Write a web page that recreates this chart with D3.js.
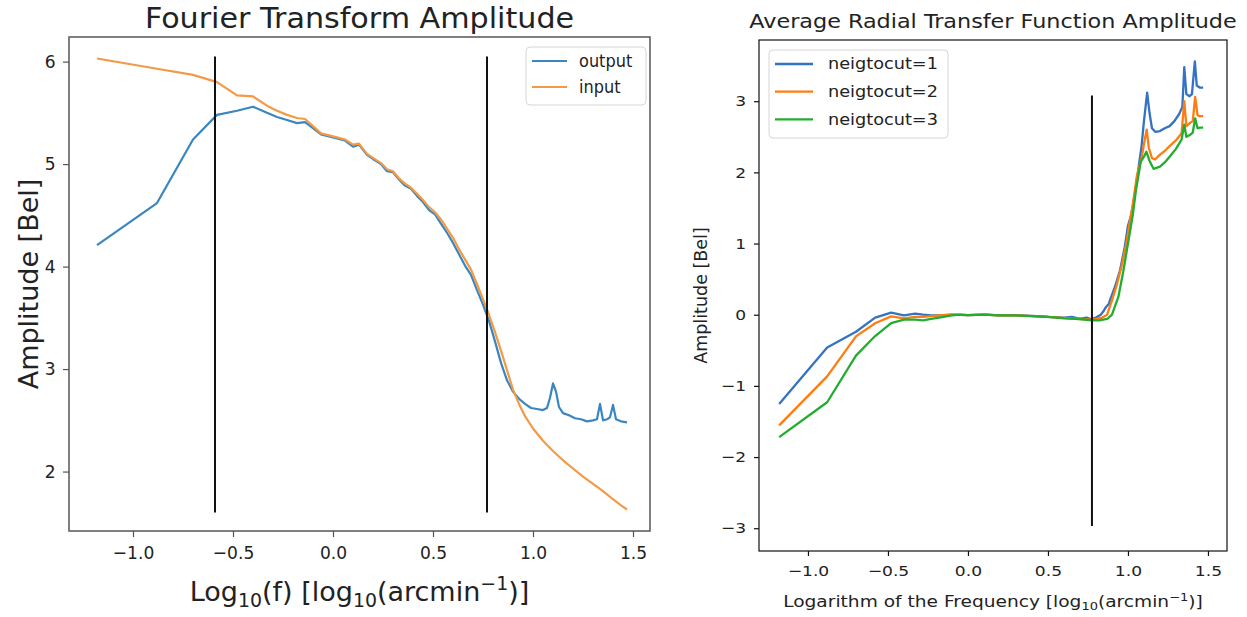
<!DOCTYPE html>
<html lang="en">
<head>
<meta charset="UTF-8">
<title>Fourier transform amplitude / radial transfer function</title>
<style>
  body { margin: 0; background: #fff; }
  svg { display: block; font-family: "DejaVu Sans", sans-serif; }
</style>
</head>
<body>
<svg id="chart" width="1247" height="617"></svg>
<script src="https://d3js.org/d3.v7.min.js"></script>
<script>
// ---- left panel: Fourier transform amplitude, [log10 f, Bel] ----
const ftInput = [[-1.18,6.03],[-0.88,5.93],[-0.70,5.87],[-0.58,5.80],[-0.48,5.67],[-0.40,5.66],[-0.33,5.57],
  [-0.28,5.52],[-0.23,5.48],[-0.18,5.45],[-0.14,5.44],[-0.10,5.37],[-0.06,5.30],[-0.02,5.28],[0.02,5.26],
  [0.06,5.24],[0.10,5.19],[0.13,5.20],[0.17,5.10],[0.20,5.06],[0.24,5.01],[0.27,4.95],[0.30,4.93],[0.33,4.86],
  [0.36,4.81],[0.39,4.77],[0.42,4.71],[0.45,4.65],[0.48,4.58],[0.51,4.53],[0.54,4.46],[0.57,4.37],[0.60,4.28],
  [0.63,4.17],[0.66,4.07],[0.69,3.97],[0.72,3.83],[0.75,3.68],[0.78,3.53],[0.81,3.36],[0.84,3.18],[0.87,2.99],
  [0.90,2.80],[0.93,2.66],[0.96,2.54],[1.00,2.42],[1.05,2.30],[1.10,2.20],[1.15,2.11],[1.20,2.03],[1.25,1.95],
  [1.30,1.88],[1.35,1.81],[1.40,1.73],[1.44,1.67],[1.47,1.63]];
const ftOutput = [[-1.18,4.21],[-0.88,4.62],[-0.70,5.24],[-0.58,5.48],[-0.48,5.52],[-0.40,5.56],[-0.33,5.50],
  [-0.28,5.46],[-0.23,5.43],[-0.18,5.40],[-0.14,5.41],[-0.10,5.35],[-0.06,5.29],[-0.02,5.27],[0.02,5.25],
  [0.06,5.23],[0.10,5.17],[0.13,5.19],[0.17,5.09],[0.20,5.05],[0.24,5.00],[0.27,4.93],[0.30,4.92],[0.33,4.85],
  [0.36,4.79],[0.39,4.76],[0.42,4.69],[0.45,4.63],[0.48,4.55],[0.51,4.51],[0.54,4.42],[0.57,4.33],[0.60,4.23],
  [0.63,4.12],[0.66,4.01],[0.69,3.92],[0.72,3.77],[0.75,3.63],[0.78,3.47],[0.81,3.27],[0.84,3.06],[0.87,2.89],
  [0.90,2.78],[0.93,2.71],[0.96,2.66],[0.99,2.62],[1.02,2.61],[1.05,2.60],[1.07,2.62],[1.085,2.72],[1.10,2.86],
  [1.115,2.78],[1.13,2.63],[1.15,2.57],[1.18,2.55],[1.21,2.52],[1.24,2.51],[1.27,2.49],[1.30,2.50],[1.32,2.51],
  [1.335,2.66],[1.35,2.50],[1.37,2.51],[1.385,2.53],[1.40,2.65],[1.415,2.51],[1.44,2.49],[1.47,2.48]];
const ftXTicks = [-1.0, -0.5, 0.0, 0.5, 1.0, 1.5];
const ftYTicks = [2, 3, 4, 5, 6];
const ftCuts = [-0.59, 0.77];

// ---- right panel: average radial transfer function amplitude ----
const trCut1 = [[-1.18,-1.255],[-0.88,-0.46],[-0.70,-0.24],[-0.58,-0.04],[-0.48,0.03],[-0.40,-0.01],[-0.33,0.015],
  [-0.28,0.0],[-0.23,-0.01],[-0.18,-0.01],[-0.10,0.0],[0.0,-0.005],[0.1,0.0],[0.2,-0.01],[0.3,-0.01],[0.4,-0.015],
  [0.5,-0.03],[0.6,-0.04],[0.65,-0.03],[0.7,-0.06],[0.74,-0.04],[0.77,-0.06],[0.80,-0.04],[0.83,0.0],[0.85,0.06],
  [0.86,0.10],[0.88,0.15],[0.89,0.22],[0.92,0.40],[0.95,0.62],[0.98,0.95],[1.00,1.25],[1.02,1.40],[1.045,1.72],
  [1.07,2.13],[1.085,2.37],[1.10,2.72],[1.12,3.12],[1.135,2.83],[1.15,2.62],[1.17,2.57],[1.20,2.58],[1.23,2.62],
  [1.26,2.65],[1.29,2.72],[1.32,2.82],[1.34,2.92],[1.352,3.48],[1.365,3.10],[1.385,3.07],[1.40,3.10],[1.418,3.56],
  [1.43,3.22],[1.45,3.19],[1.47,3.19]];
const trCut2 = [[-1.18,-1.555],[-0.88,-0.866],[-0.70,-0.305],[-0.58,-0.12],[-0.48,-0.024],[-0.40,-0.05],
  [-0.33,-0.03],[-0.28,-0.03],[-0.23,-0.02],[-0.18,-0.01],[-0.10,0.0],[0.0,-0.005],[0.1,0.0],[0.2,-0.01],
  [0.3,-0.01],[0.4,-0.02],[0.5,-0.03],[0.6,-0.045],[0.7,-0.06],[0.77,-0.07],[0.80,-0.06],[0.84,-0.04],[0.87,0.0],
  [0.90,0.20],[0.93,0.42],[0.96,0.68],[0.99,1.0],[1.00,1.15],[1.03,1.55],[1.055,1.94],[1.085,2.20],[1.105,2.46],
  [1.117,2.60],[1.13,2.35],[1.15,2.20],[1.17,2.18],[1.20,2.25],[1.23,2.30],[1.26,2.37],[1.30,2.45],[1.335,2.55],
  [1.352,3.00],[1.365,2.65],[1.39,2.70],[1.405,2.72],[1.42,3.06],[1.435,2.80],[1.45,2.79],[1.47,2.79]];
const trCut3 = [[-1.18,-1.72],[-0.88,-1.23],[-0.70,-0.575],[-0.58,-0.30],[-0.48,-0.117],[-0.40,-0.07],
  [-0.33,-0.07],[-0.28,-0.08],[-0.23,-0.06],[-0.18,-0.04],[-0.10,-0.01],[-0.05,0.0],[0.0,-0.005],[0.1,0.0],
  [0.2,-0.01],[0.3,-0.01],[0.4,-0.02],[0.5,-0.03],[0.6,-0.05],[0.7,-0.06],[0.77,-0.08],[0.82,-0.08],[0.87,-0.06],
  [0.90,0.0],[0.94,0.25],[0.97,0.60],[1.00,1.0],[1.03,1.40],[1.05,1.75],[1.08,2.15],[1.10,2.22],[1.115,2.29],
  [1.135,2.16],[1.16,2.05],[1.20,2.08],[1.23,2.14],[1.26,2.22],[1.30,2.33],[1.335,2.46],[1.352,2.67],[1.365,2.50],
  [1.39,2.53],[1.405,2.56],[1.42,2.76],[1.435,2.62],[1.45,2.63],[1.47,2.63]];
const trXTicks = [-1.0, -0.5, 0.0, 0.5, 1.0, 1.5];
const trYTicks = [-3, -2, -1, 0, 1, 2, 3];
const trCuts = [0.775];

const svg = d3.select("#chart");

// label with sub/superscripts: parts = [[text, "n"|"sub"|"sup"], ...]
function richText(sel, parts, fs) {
  let shift = 0;
  parts.forEach(([t, kind]) => {
    const target = kind === "sub" ? fs * 0.22 : kind === "sup" ? -fs * 0.4 : 0;
    sel.append("tspan")
      .attr("dy", target - shift)
      .attr("font-size", kind === "n" ? fs : fs * 0.7)
      .text(t);
    shift = target;
  });
}

function panel(c) {
  const x = d3.scaleLinear().domain(c.xDomain).range([c.left, c.right]);
  const y = d3.scaleLinear().domain(c.yDomain).range([c.bottom, c.top]);
  const g = svg.append("g");
  const sx = c.stretch;

  const line = d3.line().x(d => x(d[0])).y(d => y(d[1]));
  c.series.forEach(s => {
    g.append("path").datum(s.data)
      .attr("fill", "none").attr("stroke", s.color)
      .attr("stroke-width", c.lineWidth).attr("stroke-linejoin", "round")
      .attr("d", line);
  });

  // vertical cut lines
  c.cuts.forEach(v => {
    g.append("line")
      .attr("x1", x(v)).attr("x2", x(v))
      .attr("y1", y(c.cutRange[0])).attr("y2", y(c.cutRange[1]))
      .attr("stroke", "#111").attr("stroke-width", 2);
  });

  const xAxis = d3.axisBottom(x).tickValues(c.xTicks).tickFormat(d3.format(".1f"))
    .tickSizeOuter(0).tickSizeInner(c.tickLen).tickPadding(c.xTickPad);
  const yAxis = d3.axisLeft(y).tickValues(c.yTicks).tickFormat(d3.format("d"))
    .tickSizeOuter(0).tickSizeInner(c.tickLen).tickPadding(c.yTickPad);

  [g.append("g").attr("transform", `translate(0,${c.bottom})`).call(xAxis),
   g.append("g").attr("transform", `translate(${c.left},0)`).call(yAxis)].forEach(a => {
    a.select(".domain").remove();
    a.selectAll("line").attr("stroke", c.frameColor).attr("stroke-width", 1.2);
    a.selectAll("text").attr("font-size", c.tickFs).attr("fill", "#222")
      .attr("font-family", "DejaVu Sans").attr("transform", `scale(${sx},1)`);
  });

  g.append("rect")
    .attr("x", c.left).attr("y", c.top)
    .attr("width", c.right - c.left).attr("height", c.bottom - c.top)
    .attr("fill", "none").attr("stroke", c.frameColor).attr("stroke-width", c.frameWidth);

  // title
  g.append("text")
    .attr("transform", `translate(${(c.left + c.right) / 2},${c.titleY}) scale(${c.titleStretch},1)`)
    .attr("text-anchor", "middle").attr("font-size", c.titleFs).attr("fill", "#222")
    .text(c.title);

  // axis labels
  richText(g.append("text")
    .attr("transform", `translate(${(c.left + c.right) / 2},${c.xLabelY}) scale(${c.labelStretch},1)`)
    .attr("text-anchor", "middle").attr("fill", "#222"), c.xLabel, c.labelFs);
  g.append("text")
    .attr("transform", `translate(${c.yLabelX},${(c.top + c.bottom) / 2}) rotate(-90)`)
    .attr("text-anchor", "middle").attr("font-size", c.yLabelFs).attr("fill", "#222")
    .text(c.yLabel);

  // legend
  const L = c.legend;
  g.append("rect").attr("x", L.x).attr("y", L.y).attr("width", L.w).attr("height", L.h)
    .attr("rx", 4).attr("fill", "#fff").attr("fill-opacity", 0.8)
    .attr("stroke", "#d6d6d6").attr("stroke-width", 1);
  c.series.forEach((s, i) => {
    const ly = L.y + L.first + i * L.step;
    g.append("line").attr("x1", L.x + L.lx0).attr("x2", L.x + L.lx1)
      .attr("y1", ly).attr("y2", ly)
      .attr("stroke", s.color).attr("stroke-width", c.lineWidth);
    g.append("text")
      .attr("transform", `translate(${L.x + L.tx},${ly}) scale(${sx},1)`)
      .attr("dy", "0.35em").attr("font-size", L.fs).attr("fill", "#222")
      .text(s.name);
  });
}

panel({
  left: 69, right: 650, top: 37, bottom: 531,
  xDomain: [-1.32, 1.585], yDomain: [1.42, 6.24],
  xTicks: ftXTicks, yTicks: ftYTicks,
  stretch: 0.95, lineWidth: 2.2, tickLen: 6, xTickPad: 9, yTickPad: 8, tickFs: 18,
  frameColor: "#555", frameWidth: 1.5,
  title: "Fourier Transform Amplitude", titleY: 28, titleFs: 29, titleStretch: 1.04,
  xLabel: [["Log", "n"], ["10", "sub"], ["(f) [log", "n"], ["10", "sub"], ["(arcmin", "n"], ["\u22121", "sup"], [")]", "n"]],
  xLabelY: 601, labelFs: 27, labelStretch: 1.0,
  yLabel: "Amplitude [Bel]", yLabelX: 38, yLabelFs: 27,
  cuts: ftCuts, cutRange: [1.6, 6.05],
  series: [
    { name: "output", color: "#3a86c0", data: ftOutput },
    { name: "input", color: "#f29a45", data: ftInput }
  ],
  legend: { x: 526, y: 47, w: 120, h: 58, first: 14, step: 26, lx0: 6, lx1: 41, tx: 53, fs: 17 }
});

panel({
  left: 759, right: 1227, top: 40, bottom: 551,
  xDomain: [-1.306, 1.619], yDomain: [-3.32, 3.86],
  xTicks: trXTicks, yTicks: trYTicks,
  stretch: 1.18, lineWidth: 2.3, tickLen: 5, xTickPad: 10, yTickPad: 6, tickFs: 14.5,
  frameColor: "#111", frameWidth: 1.2,
  title: "Average Radial Transfer Function Amplitude", titleY: 28, titleFs: 18.9, titleStretch: 1.18,
  xLabel: [["Logarithm of the Frequency [log", "n"], ["10", "sub"], ["(arcmin", "n"], ["\u22121", "sup"], [")]", "n"]],
  xLabelY: 607, labelFs: 15.5, labelStretch: 1.2,
  yLabel: "Amplitude [Bel]", yLabelX: 707, yLabelFs: 17.5,
  cuts: trCuts, cutRange: [-2.97, 3.08],
  series: [
    { name: "neigtocut=1", color: "#3473c3", data: trCut1 },
    { name: "neigtocut=2", color: "#ff7c12", data: trCut2 },
    { name: "neigtocut=3", color: "#22ad2f", data: trCut3 }
  ],
  legend: { x: 769, y: 50, w: 179, h: 88, first: 14, step: 27.7, lx0: 6, lx1: 44, tx: 59, fs: 15 }
});
</script>
</body>
</html>
